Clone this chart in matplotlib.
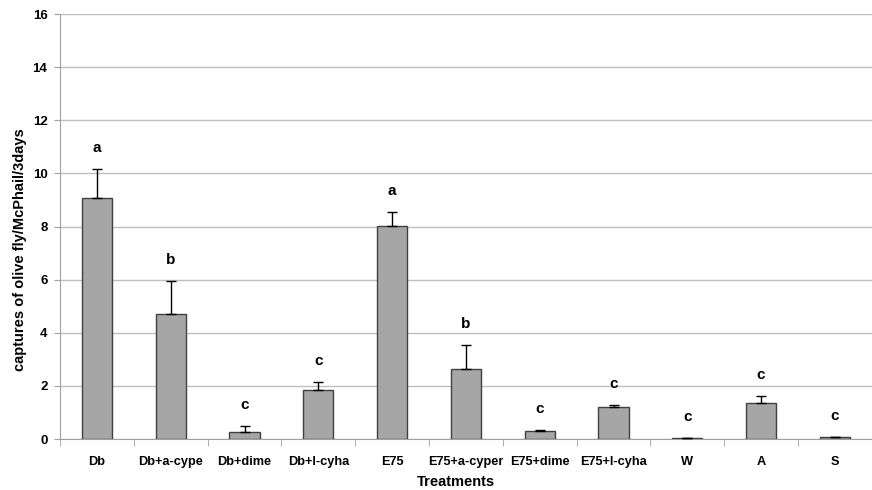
import matplotlib
matplotlib.use("Agg")
import matplotlib.pyplot as plt
import numpy as np

plt.rcParams['font.family'] = ['Liberation Sans', 'DejaVu Sans']

# mean captures and upper standard error per treatment
treatments = ["Db", "Db+a-cype", "Db+dime", "Db+l-cyha", "E75", "E75+a-cyper",
              "E75+dime", "E75+l-cyha", "W", "A", "S"]
captures = [9.06, 4.71, 0.25, 1.84, 8.03, 2.62, 0.29, 1.19, 0.03, 1.34, 0.07]
errors = [1.09, 1.23, 0.24, 0.29, 0.50, 0.91, 0.04, 0.08, 0.0, 0.27, 0.0]
groups = ["a", "b", "c", "c", "a", "b", "c", "c", "c", "c", "c"]

fig = plt.figure(figsize=(8.72, 4.90), dpi=100)
ax = fig.add_axes([0.0688, 0.104, 0.931, 0.8674])

x = np.arange(len(treatments))
ax.bar(x, captures, width=0.41, color="#a6a6a6", edgecolor="#404040",
       linewidth=1.0, zorder=3)
ax.errorbar(x, captures, yerr=[np.zeros(len(errors)), errors], fmt="none",
            ecolor="black", elinewidth=1.0, capsize=3.5, capthick=1.0, zorder=4)

# significance letters above each bar
for xi, c, e, g in zip(x, captures, errors, groups):
    ax.text(xi, c + e + 0.8, g, ha="center", va="center",
            fontsize=11, fontweight="bold")

ax.set_xlim(-0.5, len(treatments) - 0.5)
ax.set_ylim(0, 16)
ax.set_yticks(np.arange(0, 17, 2))
ax.yaxis.grid(True, color="#bfbfbf", linewidth=1.0, zorder=0)

ax.set_xticks(x)
ax.set_xticklabels(treatments, fontweight="bold", fontsize=9.2)
ax.set_xticks(np.arange(-0.5, len(treatments), 1), minor=True)
ax.tick_params(axis="x", which="major", length=0, pad=12)
ax.tick_params(axis="x", which="minor", length=5, color="#a0a0a0")
ax.tick_params(axis="y", length=4, color="#a0a0a0", labelsize=9.5, pad=5)
for lbl in ax.get_yticklabels():
    lbl.set_fontweight("bold")

for side in ["top", "right"]:
    ax.spines[side].set_visible(False)
ax.spines["left"].set_color("#a0a0a0")
ax.spines["bottom"].set_color("#a0a0a0")

ax.set_ylabel("captures of olive fly/McPhail/3days", fontsize=10.5,
              fontweight="bold")
ax.yaxis.set_label_coords(-0.041, 0.445)
ax.set_xlabel("Treatments", fontsize=10.5, fontweight="bold")
ax.xaxis.set_label_coords(0.4877, -0.084)

fig.savefig("out.png", dpi=100)
